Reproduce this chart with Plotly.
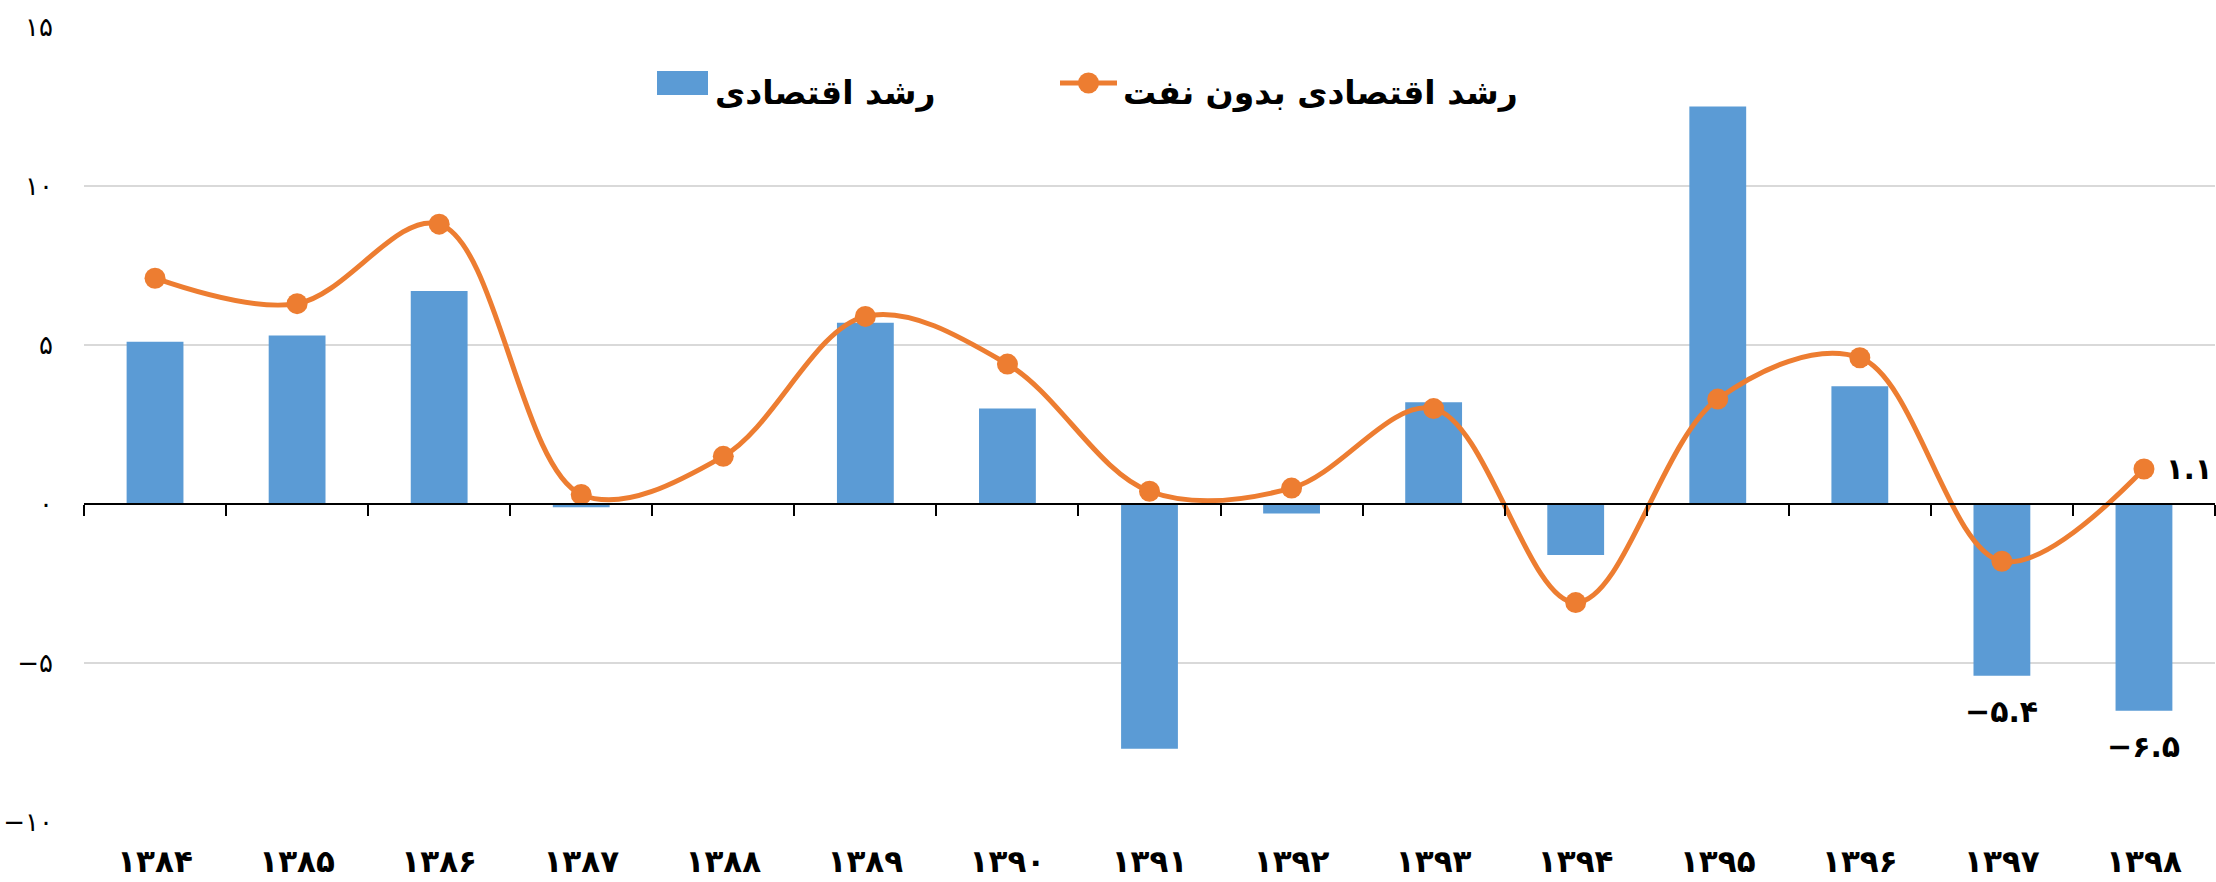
import plotly.graph_objects as go

years = ["۱۳۸۴", "۱۳۸۵", "۱۳۸۶", "۱۳۸۷", "۱۳۸۸", "۱۳۸۹", "۱۳۹۰", "۱۳۹۱",
         "۱۳۹۲", "۱۳۹۳", "۱۳۹۴", "۱۳۹۵", "۱۳۹۶", "۱۳۹۷", "۱۳۹۸"]
growth = [5.1, 5.3, 6.7, -0.1, 0.0, 5.7, 3.0, -7.7, -0.3, 3.2, -1.6, 12.5, 3.7, -5.4, -6.5]
growth_non_oil = [7.1, 6.3, 8.8, 0.3, 1.5, 5.9, 4.4, 0.4, 0.5, 3.0, -3.1, 3.3, 4.6, -1.8, 1.1]
growth_labels = ["", "", "", "", "", "", "", "", "", "", "", "", "", "−۵.۴", "−۶.۵"]
non_oil_labels = ["", "", "", "", "", "", "", "", "", "", "", "", "", "", "۱.۱"]
name_growth = "رشد اقتصادی"
name_non_oil = "رشد اقتصادی بدون نفت"
ytick_vals = [-10, -5, 0, 5, 10, 15]
ytick_text = ["−۱۰", "−۵", "۰", "۵", "۱۰", "۱۵"]

FONT = "DejaVu Sans"
BLUE = "#5B9BD5"
ORANGE = "#ED7D31"

# plot-area geometry (pixels)
W_FIG, H_FIG = 2216, 882
M_L, M_R, M_T, M_B = 84, 1, 27, 60
PW = W_FIG - M_L - M_R
PH = H_FIG - M_T - M_B


def px(x):
    return (x - M_L) / PW


def py(y):
    return (M_T + PH - y) / PH


fig = go.Figure()
fig.add_trace(go.Bar(
    x=years, y=growth, name=name_growth,
    marker=dict(color=BLUE, line=dict(width=0)),
    showlegend=False,
))
fig.add_trace(go.Scatter(
    x=years, y=growth_non_oil, name=name_non_oil,
    mode="lines+markers",
    line=dict(color=ORANGE, width=5, shape="spline", smoothing=1.0),
    marker=dict(color=ORANGE, size=21),
    showlegend=False,
))
# invisible helper trace so the zero-line category axis is rendered
fig.add_trace(go.Scatter(
    x=years, y=[None] * len(years), xaxis="x2", showlegend=False,
    hoverinfo="skip", mode="lines",
))

annotations = []
for i, lbl in enumerate(growth_labels):
    if lbl:
        annotations.append(dict(
            x=years[i], y=growth[i], xref="x", yref="y", text=lbl,
            showarrow=False, xanchor="center", yanchor="middle", yshift=-36,
            font=dict(family=FONT, size=30, color="black", weight="bold"),
        ))
for i, lbl in enumerate(non_oil_labels):
    if lbl:
        annotations.append(dict(
            x=years[i], y=growth_non_oil[i], xref="x", yref="y", text=lbl,
            showarrow=False, xanchor="left", yanchor="middle", xshift=20,
            font=dict(family=FONT, size=29, color="black", weight="bold"),
        ))

# legend (drawn to match the large symbols of the original)
legend_font = dict(family=FONT, size=33, color="black", weight="bold")
annotations.append(dict(
    x=px(713), y=py(93), xref="paper", yref="paper", text=name_growth,
    showarrow=False, xanchor="left", yanchor="middle", font=legend_font,
))
annotations.append(dict(
    x=px(1121), y=py(93), xref="paper", yref="paper", text=name_non_oil,
    showarrow=False, xanchor="left", yanchor="middle", font=legend_font,
))
shapes = [
    dict(type="rect", xref="paper", yref="paper",
         x0=px(657), x1=px(708), y0=py(95), y1=py(71),
         fillcolor=BLUE, line=dict(width=0)),
    dict(type="line", xref="paper", yref="paper",
         x0=px(1060), x1=px(1117), y0=py(83), y1=py(83),
         line=dict(color=ORANGE, width=5)),
    dict(type="circle", xref="paper", yref="paper",
         x0=px(1078), x1=px(1099), y0=py(93.5), y1=py(72.5),
         fillcolor=ORANGE, line=dict(width=0)),
]

fig.update_layout(
    width=W_FIG, height=H_FIG,
    margin=dict(l=M_L, r=M_R, t=M_T, b=M_B),
    paper_bgcolor="white", plot_bgcolor="white",
    bargap=0.6,
    showlegend=False,
    annotations=annotations,
    shapes=shapes,
    xaxis=dict(
        type="category", categoryarray=years, range=[-0.5, 14.5],
        showline=False, showgrid=False, zeroline=False, ticks="",
        tickfont=dict(family=FONT, size=31, color="black", weight="bold"),
        ticklabelstandoff=18,
    ),
    xaxis2=dict(
        type="category", categoryarray=years, range=[-0.5, 14.5],
        overlaying="x", anchor="free", position=0.4, side="bottom",
        showline=True, linecolor="black", linewidth=2,
        ticks="outside", tickson="boundaries", ticklen=11, tickwidth=2,
        tickcolor="black", showticklabels=False, showgrid=False, zeroline=False,
    ),
    yaxis=dict(
        range=[-10, 15], tickvals=ytick_vals, ticktext=ytick_text,
        showgrid=True, gridcolor="#D9D9D9", gridwidth=2,
        zeroline=False, showline=False, ticks="",
        tickfont=dict(family=FONT, size=26, color="black"),
        ticklabelstandoff=30,
    ),
)

fig.write_html(
    "out.html",
    config={"displayModeBar": False},
    post_script="document.body.style.margin='0';document.body.style.overflow='hidden';",
)
